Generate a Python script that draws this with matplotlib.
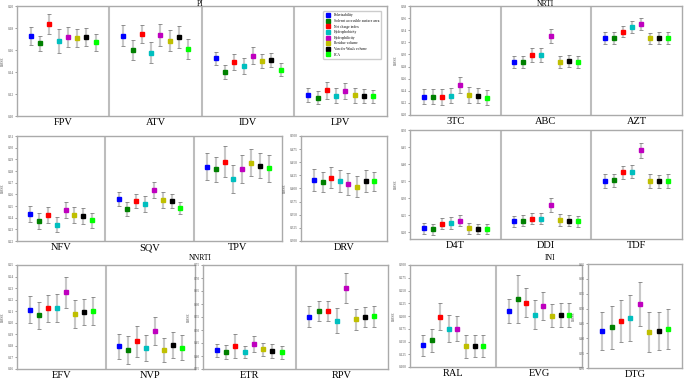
import numpy as np
import matplotlib
matplotlib.use("Agg")
import matplotlib.pyplot as plt
from matplotlib.ticker import FormatStrFormatter

plt.rcParams['font.family'] = ['Liberation Serif', 'DejaVu Serif']

methods = ['Polarizability', 'Solvent accessible surface area', 'Net charge index',
           'Hydrophobicity', 'Hydrophilicity', 'Residue volume',
           'Van der Waals volume', 'PCA']
colors = ['#0000ff', '#008000', '#ff0000', '#00bfbf', '#bf00bf', '#bfbf00', '#000000', '#00ff00']

# PI
pi_drugs = ['FPV', 'ATV', 'IDV', 'LPV']
pi_mean = [[0.1727, 0.1660, 0.1840, 0.1685, 0.1718, 0.1710, 0.1720, 0.1670],
           [0.1730, 0.1600, 0.1745, 0.1576, 0.1740, 0.1685, 0.1715, 0.1606],
           [0.1524, 0.1400, 0.1488, 0.1452, 0.1548, 0.1500, 0.1509, 0.1421],
           [0.1190, 0.1167, 0.1236, 0.1185, 0.1230, 0.1188, 0.1180, 0.1180]]
pi_err = [[0.0080, 0.0070, 0.0090, 0.0110, 0.0090, 0.0083, 0.0080, 0.0075],
          [0.0094, 0.0090, 0.0085, 0.0094, 0.0100, 0.0097, 0.0100, 0.0090],
          [0.0060, 0.0062, 0.0073, 0.0071, 0.0076, 0.0068, 0.0060, 0.0060],
          [0.0067, 0.0060, 0.0077, 0.0070, 0.0072, 0.0070, 0.0065, 0.0060]]

# NRTI (top)
nrti1_drugs = ['3TC', 'ABC', 'AZT']
nrti1_mean = [[0.2303, 0.2303, 0.2303, 0.2320, 0.2500, 0.2325, 0.2320, 0.2286],
              [0.2880, 0.2880, 0.2990, 0.2990, 0.3305, 0.2880, 0.2886, 0.2880],
              [0.3272, 0.3272, 0.3376, 0.3448, 0.3497, 0.3266, 0.3272, 0.3272]]
nrti1_err = [[0.0124, 0.0124, 0.0130, 0.0124, 0.0130, 0.0130, 0.0120, 0.0125],
             [0.0096, 0.0096, 0.0110, 0.0110, 0.0120, 0.0096, 0.0098, 0.0096],
             [0.0094, 0.0094, 0.0096, 0.0099, 0.0099, 0.0090, 0.0094, 0.0094]]

# PI (second row)
pi2_drugs = ['NFV', 'SQV', 'TPV']
pi2_mean = [[0.2429, 0.2371, 0.2423, 0.2340, 0.2466, 0.2423, 0.2417, 0.2377],
            [0.2560, 0.2474, 0.2543, 0.2514, 0.2640, 0.2551, 0.2543, 0.2483],
            [0.2837, 0.2814, 0.2880, 0.2729, 0.2820, 0.2871, 0.2846, 0.2823]]
pi2_err = [[0.0067, 0.0066, 0.0069, 0.0064, 0.0071, 0.0070, 0.0069, 0.0063],
           [0.0064, 0.0057, 0.0063, 0.0069, 0.0069, 0.0066, 0.0063, 0.0054],
           [0.0116, 0.0110, 0.0133, 0.0120, 0.0120, 0.0116, 0.0110, 0.0114]]

drv_drugs = ['DRV']
drv_mean = [[0.4154, 0.4115, 0.4205, 0.4140, 0.4090, 0.4038, 0.4135, 0.4135]]
drv_err = [[0.0208, 0.0190, 0.0200, 0.0210, 0.0205, 0.0200, 0.0210, 0.0186]]

# NRTI (second row)
nrti2_drugs = ['D4T', 'DDI', 'TDF']
nrti2_mean = [[0.2115, 0.2086, 0.2250, 0.2270, 0.2330, 0.2115, 0.2095, 0.2095],
              [0.2320, 0.2340, 0.2398, 0.2398, 0.2797, 0.2350, 0.2340, 0.2320],
              [0.3500, 0.3520, 0.3760, 0.3780, 0.4405, 0.3500, 0.3490, 0.3500]]
nrti2_err = [[0.0156, 0.0160, 0.0170, 0.0180, 0.0160, 0.0156, 0.0156, 0.0156],
             [0.0156, 0.0170, 0.0166, 0.0166, 0.0210, 0.0170, 0.0170, 0.0160],
             [0.0195, 0.0200, 0.0185, 0.0200, 0.0215, 0.0195, 0.0195, 0.0195]]

# NNRTI
nnrti1_drugs = ['EFV', 'NVP']
nnrti1_mean = [[0.2113, 0.2064, 0.2125, 0.2130, 0.2265, 0.2076, 0.2090, 0.2102],
               [0.1798, 0.1766, 0.1840, 0.1783, 0.1927, 0.1763, 0.1804, 0.1786]]
nnrti1_err = [[0.0115, 0.0120, 0.0116, 0.0123, 0.0135, 0.0118, 0.0113, 0.0118],
              [0.0109, 0.0120, 0.0135, 0.0115, 0.0120, 0.0105, 0.0112, 0.0110]]

nnrti2_drugs = ['ETR', 'RPV']
nnrti2_mean = [[0.4226, 0.4137, 0.4392, 0.4150, 0.4455, 0.4252, 0.4188, 0.4137],
               [0.5513, 0.5717, 0.5717, 0.5347, 0.6608, 0.5410, 0.5500, 0.5526]]
nnrti2_err = [[0.0250, 0.0270, 0.0450, 0.0240, 0.0300, 0.0250, 0.0270, 0.0250],
              [0.0400, 0.0380, 0.0380, 0.0480, 0.0570, 0.0410, 0.0400, 0.0410]]

# INI
ini1_drugs = ['RAL', 'EVG']
ini1_mean = [[0.1422, 0.1520, 0.1987, 0.1753, 0.1753, 0.1403, 0.1410, 0.1403],
             [0.2090, 0.2331, 0.2260, 0.2026, 0.2195, 0.2006, 0.2020, 0.2020]]
ini1_err = [[0.0210, 0.0220, 0.0270, 0.0270, 0.0240, 0.0220, 0.0215, 0.0215],
            [0.0234, 0.0470, 0.0280, 0.0290, 0.0276, 0.0220, 0.0240, 0.0227]]

dtg_drugs = ['DTG']
dtg_mean = [[0.4245, 0.4369, 0.4593, 0.4683, 0.5143, 0.4212, 0.4245, 0.4313]]
dtg_err = [[0.0650, 0.0730, 0.0710, 0.0790, 0.0740, 0.0670, 0.0650, 0.0680]]

W, H = 685, 379
fig = plt.figure(figsize=(W / 100, H / 100), dpi=100)


def panel(l, r, t, b, drugs, mean, err, ylim, yticks, fmt, legend=False):
    ax = fig.add_axes([l / W, 1 - b / H, (r - l) / W, (b - t) / H])
    mean = np.array(mean)
    err = np.array(err)
    n = len(drugs)
    for i in range(8):
        xs = np.arange(n) + (i - 3.5) * 0.1
        ax.errorbar(xs, mean[:, i], yerr=err[:, i], fmt='none', ecolor='#dcdcdc',
                    elinewidth=1.6, capsize=0, zorder=2)
        ax.errorbar(xs, mean[:, i], yerr=err[:, i], fmt='none', ecolor='#808080',
                    elinewidth=0.3, capsize=1.4, capthick=0.6, zorder=2)
        ax.errorbar(xs, mean[:, i], fmt='s', color=colors[i], ms=2.6,
                    label=methods[i], zorder=3)
    for k in range(1, n):
        ax.axvline(k - 0.5, color='#bdbdbd', lw=1.5, zorder=1)
    ax.set_xlim(-0.5, n - 0.5)
    ax.set_ylim(*ylim)
    ax.set_yticks(yticks)
    ax.yaxis.set_major_formatter(FormatStrFormatter(fmt))
    ax.set_xticks(range(n))
    ax.set_xticklabels(drugs, fontsize=7.5)
    ax.tick_params(axis='x', length=0, pad=1.5)
    ax.tick_params(axis='y', labelsize=2.5, length=1.5, width=0.4, pad=1, colors='#555555')
    ax.set_ylabel('RMSE', fontsize=2.5, labelpad=2, color='#555555')
    for s in ax.spines.values():
        s.set_color('#aaaaaa')
        s.set_linewidth(1.0)
    if legend:
        ax.legend(loc='upper right', fontsize=2.6, frameon=True, framealpha=1,
                  edgecolor='#cccccc', borderpad=0.6, labelspacing=0.45,
                  handlelength=1.5, bbox_to_anchor=(0.99, 0.97))
    return ax


panel(17, 387, 6, 116, pi_drugs, pi_mean, pi_err, (0.10, 0.20),
      np.arange(0.10, 0.201, 0.02), '%.2f', legend=True)
panel(410, 682, 6, 115, nrti1_drugs, nrti1_mean, nrti1_err, (0.20, 0.38),
      np.arange(0.20, 0.381, 0.02), '%.2f')
panel(17, 282, 136, 241, pi2_drugs, pi2_mean, pi2_err, (0.22, 0.31),
      np.arange(0.22, 0.311, 0.01), '%.2f')
panel(301, 387, 136, 241, drv_drugs, drv_mean, drv_err, (0.30, 0.50),
      np.arange(0.30, 0.501, 0.025), '%.3f')
panel(410, 682, 130, 239, nrti2_drugs, nrti2_mean, nrti2_err, (0.18, 0.50),
      np.arange(0.20, 0.501, 0.05), '%.2f')
panel(17, 195, 265, 369, nnrti1_drugs, nnrti1_mean, nnrti1_err, (0.16, 0.25),
      np.arange(0.16, 0.251, 0.01), '%.2f')
panel(203, 388, 265, 369, nnrti2_drugs, nnrti2_mean, nnrti2_err, (0.35, 0.75),
      np.arange(0.35, 0.751, 0.05), '%.2f')
panel(410, 582, 265, 367, ini1_drugs, ini1_mean, ini1_err, (0.10, 0.30),
      np.arange(0.10, 0.301, 0.025), '%.3f')
panel(588, 682, 264, 368, dtg_drugs, dtg_mean, dtg_err, (0.30, 0.65),
      np.arange(0.30, 0.651, 0.05), '%.2f')

fig.text(200 / W, 1 - 3.5 / H, 'PI', fontsize=5.5, ha='center', va='center')
fig.text(545 / W, 1 - 3.5 / H, 'NRTI', fontsize=5.5, ha='center', va='center')
fig.text(200 / W, 1 - 258 / H, 'NNRTI', fontsize=5.5, ha='center', va='center')
fig.text(550 / W, 1 - 258 / H, 'INI', fontsize=5.5, ha='center', va='center')

fig.savefig('out.png', dpi=100)
